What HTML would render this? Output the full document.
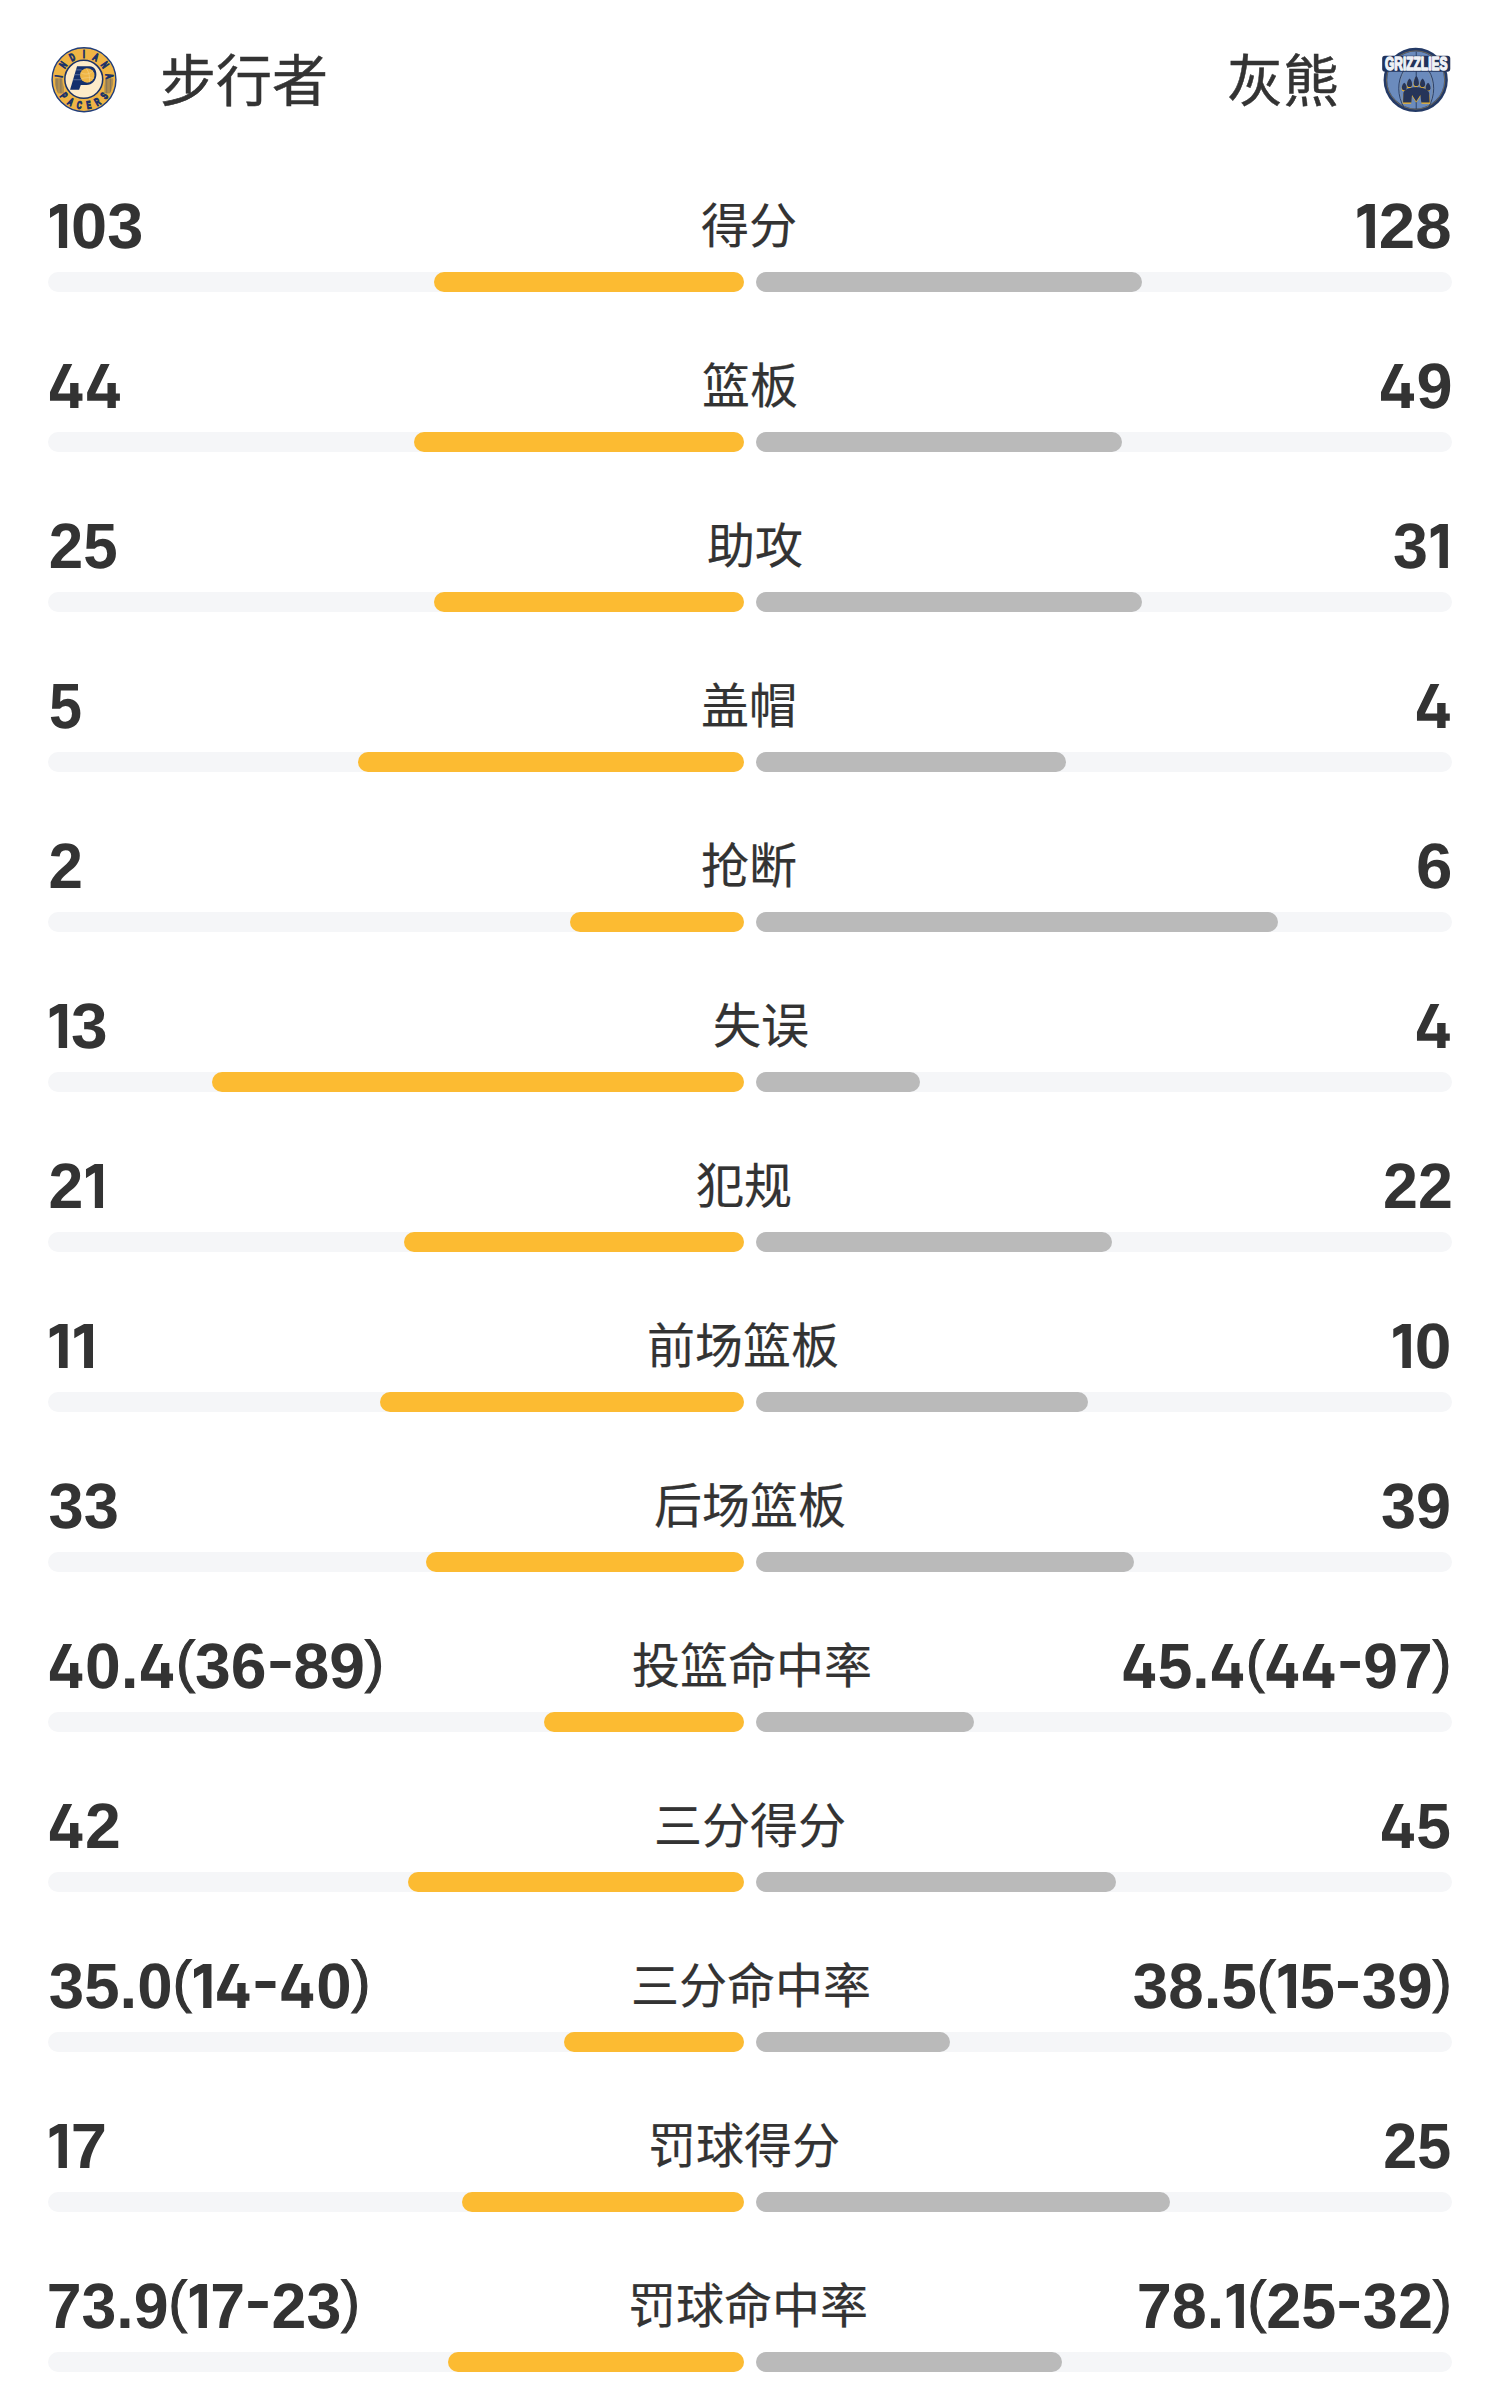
<!DOCTYPE html>
<html lang="zh-CN"><head><meta charset="utf-8"><title>stats</title>
<style>
*{margin:0;padding:0;box-sizing:border-box}
html,body{width:1500px;height:2400px;background:#fff;overflow:hidden}
body{position:relative;font-family:"Liberation Sans",sans-serif;color:#333}
.hd{position:absolute;font-size:56px;-webkit-text-stroke:0.5px #333;line-height:1;white-space:nowrap}
.num{position:absolute;left:0;font-weight:bold;font-size:64px;line-height:1;text-rendering:geometricPrecision;white-space:nowrap;transform-origin:0 0}
.lab{position:absolute;font-size:48px;-webkit-text-stroke:0.2px #333;line-height:1;white-space:nowrap;transform:translateX(-50%)}
.trk{position:absolute;width:696px;height:20px;border-radius:10px;background:#f5f6f8}
.y{position:absolute;height:20px;border-radius:10px;background:#fcbb32}
.g{position:absolute;height:20px;border-radius:10px;background:#bababa}
svg{position:absolute;display:block}
.pa{font-size:57px;position:relative;top:-7px;font-weight:normal;-webkit-text-stroke:1.2px #333}.hy{display:inline-block;width:27px;height:7px;background:linear-gradient(#333,#333) center/20px 7px no-repeat;vertical-align:20px}.four{display:inline-block;width:32.8px;height:44px;margin:0 2.5px 0 2px;background:#333;clip-path:polygon(41.6% 0,68.5% 0,24.9% 67.3%,61.9% 67.3%,61.9% 43%,87.3% 43%,87.3% 67.3%,100% 67.3%,100% 83.7%,87.3% 83.7%,87.3% 100%,61.9% 100%,61.9% 83.7%,0 83.7%,0 64.6%)}.one{display:inline-block;width:17.8px;height:44px;margin:0 3.5px 0 2.5px;background:#333;clip-path:polygon(52% 0,100% 0,100% 100%,52% 100%,52% 19.6%,0 32.5%,0 12%)}
</style></head><body>

<svg style="left:48px;top:44px" width="72" height="72" viewBox="0 0 1500 1500">
<defs>
<clipPath id="ring"><path fill-rule="evenodd" d="M750,745 m-612,0 a612,612 0 1 0 1224,0 a612,612 0 1 0 -1224,0 Z M745,735 m-445,0 a445,445 0 1 1 890,0 a445,445 0 1 1 -890,0 Z"/></clipPath>
</defs>
<circle cx="750" cy="745" r="665" fill="#efb545" stroke="#213d7a" stroke-width="30"/>
<g clip-path="url(#ring)" stroke="#2b3d68" stroke-width="11" opacity="1"><path d="M146,715V1030M174,715V1030M202,715V1030M230,715V1030M258,715V1030M286,715V1030M314,715V1030"/><path d="M1190,715V1030M1218,715V1030M1246,715V1030M1274,715V1030M1302,715V1030M1330,715V1030M1358,715V1030"/></g>
<g font-family="Liberation Sans" font-weight="bold" font-size="225" fill="#1b3268" stroke="#1b3268" stroke-width="24" text-anchor="middle">
<text transform="translate(220.2,670.5) rotate(-82.0) scale(0.62,1)" y="78">I</text>
<text transform="translate(313.5,435.6) rotate(-54.7) scale(0.62,1)" y="78">N</text>
<text transform="translate(504.3,269.7) rotate(-27.3) scale(0.62,1)" y="78">D</text>
<text transform="translate(750.0,210.0) rotate(0.0) scale(0.62,1)" y="78">I</text>
<text transform="translate(995.7,269.7) rotate(27.3) scale(0.62,1)" y="78">A</text>
<text transform="translate(1186.5,435.6) rotate(54.7) scale(0.62,1)" y="78">N</text>
<text transform="translate(1279.8,670.5) rotate(82.0) scale(0.62,1)" y="78">A</text>
<text transform="translate(328.4,1074.4) rotate(52.0) scale(0.62,1)" y="78">P</text>
<text transform="translate(472.9,1202.6) rotate(31.2) scale(0.62,1)" y="78">A</text>
<text transform="translate(653.4,1271.2) rotate(10.4) scale(0.62,1)" y="78">C</text>
<text transform="translate(846.6,1271.2) rotate(-10.4) scale(0.62,1)" y="78">E</text>
<text transform="translate(1027.1,1202.6) rotate(-31.2) scale(0.62,1)" y="78">R</text>
<text transform="translate(1171.6,1074.4) rotate(-52.0) scale(0.62,1)" y="78">S</text>
</g>
<circle cx="745" cy="735" r="395" fill="#fdebc9" stroke="#1b3268" stroke-width="32"/>
<path fill="#14306d" d="M605,462 L870,462 C960,462 1012,540 1008,640 C1004,760 920,852 800,852 L683,852 L648,952 L460,952 Z"/>
<g stroke="#8193b8" stroke-width="13"><path d="M582,540H700M548,640H680M515,745H700"/></g>
<circle cx="818" cy="655" r="150" fill="#efb545"/>
<g stroke="#f6d38a" stroke-width="12" fill="none"><path d="M690,600 C760,640 860,640 940,560M700,720 C780,700 880,690 955,720M800,510 C850,580 880,680 860,800"/></g>
</svg>
<svg style="left:1378px;top:44px" width="78" height="72" viewBox="0 0 1500 1385">
<circle cx="725" cy="692" r="618" fill="#243a66"/>
<circle cx="725" cy="692" r="560" fill="none" stroke="#b59450" stroke-width="10"/>
<circle cx="725" cy="692" r="548" fill="#6b8bbd"/>
<g fill="none" stroke="#2a3d63" stroke-width="18">
<path d="M735,150V1250"/>
<path d="M500,500 C360,720 370,1000 500,1220"/>
<path d="M970,500 C1110,720 1100,1000 970,1220"/>
</g>
<g fill="none" stroke="#c9a75a" stroke-width="5" opacity="0.7">
<path d="M520,500 C380,720 390,1000 520,1220"/>
<path d="M950,500 C1090,720 1080,1000 950,1220"/>
</g>
<rect x="80" y="228" width="1310" height="305" rx="55" fill="#21325a"/>
<text x="735" y="505" font-family="Liberation Sans" font-weight="bold" font-size="340" fill="#f3f5fa" text-anchor="middle" textLength="1200" lengthAdjust="spacingAndGlyphs" stroke="#eef0f5" stroke-width="30" stroke-linejoin="round">GRIZZLIES</text>
<g fill="#f2b527">
<path d="M499,763 C531.9,788.75 546,823.7 546,866 A47,47 0 0 1 452,866 C452,823.7 466.1,788.75 499,763 Z"/>
<path d="M601,683 C635.3,711.5 650,752.9 650,797 A49,49 0 0 1 552,797 C552,752.9 566.7,711.5 601,683 Z"/>
<path d="M731,633 C766.0,668.75 781,731.0 781,776 A50,50 0 0 1 681,776 C681,731.0 696.0,668.75 731,633 Z"/>
<path d="M851,683 C885.3,712.0 900,754.9 900,799 A49,49 0 0 1 802,799 C802,754.9 816.7,712.0 851,683 Z"/>
<path d="M957,763 C989.9,789.25 1004,825.7 1004,868 A47,47 0 0 1 910,868 C910,825.7 924.1,789.25 957,763 Z"/>
<path d="M480,1000 C480,900 600,840 735,840 C880,840 995,900 995,1010 L1004,1150 L838,1150 L820,1000 L735,1124 L652,1000 L636,1150 L476,1150 Z"/>
</g>
<g fill="#263559">
<path d="M505,745 C537.9,770.75 552,805.7 552,848 A47,47 0 0 1 458,848 C458,805.7 472.1,770.75 505,745 Z"/>
<path d="M607,665 C641.3,693.5 656,734.9 656,779 A49,49 0 0 1 558,779 C558,734.9 572.7,693.5 607,665 Z"/>
<path d="M737,615 C772.0,650.75 787,713.0 787,758 A50,50 0 0 1 687,758 C687,713.0 702.0,650.75 737,615 Z"/>
<path d="M857,665 C891.3,694.0 906,736.9 906,781 A49,49 0 0 1 808,781 C808,736.9 822.7,694.0 857,665 Z"/>
<path d="M963,745 C995.9,771.25 1010,807.7 1010,850 A47,47 0 0 1 916,850 C916,807.7 930.1,771.25 963,745 Z"/>
<path d="M487,954 C487,880 600,832 735,832 C870,832 985,880 985,954 L994,1127 L833,1127 L815,983 L735,1104 L654,983 L642,1127 L482,1127 Z"/>
</g>
</svg>

<div class="hd" style="left:160px;top:54px">步行者</div>
<div class="hd" style="right:161px;top:54px">灰熊</div>
<div class="num" style="top:194px;transform:translateX(46.96px) scaleX(1.0144)"><span class="one"></span>03</div>
<div class="num" style="top:194px;transform:translateX(1354.43px) scaleX(1.0222)"><span class="one"></span>28</div>
<div class="lab" style="left:749.4px;top:203px">得分</div>
<div class="trk" style="top:272px;left:48px"></div><div class="trk" style="top:272px;left:756px"></div>
<div class="y" style="top:272px;left:434px;width:310px"></div>
<div class="g" style="top:272px;left:756px;width:386px"></div>
<div class="num" style="top:354px;transform:translateX(47.80px) scaleX(1.0014)"><span class="four"></span><span class="four"></span></div>
<div class="num" style="top:354px;transform:translateX(1378.77px) scaleX(1.0132)"><span class="four"></span>9</div>
<div class="lab" style="left:750.4px;top:363px">篮板</div>
<div class="trk" style="top:432px;left:48px"></div><div class="trk" style="top:432px;left:756px"></div>
<div class="y" style="top:432px;left:414px;width:330px"></div>
<div class="g" style="top:432px;left:756px;width:366px"></div>
<div class="num" style="top:514px;transform:translateX(48.87px) scaleX(0.9672)">25</div>
<div class="num" style="top:514px;transform:translateX(1393.04px) scaleX(0.9815)">3<span class="one"></span></div>
<div class="lab" style="left:755.3px;top:523px">助攻</div>
<div class="trk" style="top:592px;left:48px"></div><div class="trk" style="top:592px;left:756px"></div>
<div class="y" style="top:592px;left:434px;width:310px"></div>
<div class="g" style="top:592px;left:756px;width:386px"></div>
<div class="num" style="top:674px;transform:translateX(48.94px) scaleX(0.9281)">5</div>
<div class="num" style="top:674px;transform:translateX(1414.68px) scaleX(1.0091)"><span class="four"></span></div>
<div class="lab" style="left:748.6px;top:683px">盖帽</div>
<div class="trk" style="top:752px;left:48px"></div><div class="trk" style="top:752px;left:756px"></div>
<div class="y" style="top:752px;left:358px;width:386px"></div>
<div class="g" style="top:752px;left:756px;width:310px"></div>
<div class="num" style="top:834px;transform:translateX(48.56px) scaleX(0.9677)">2</div>
<div class="num" style="top:834px;transform:translateX(1415.95px) scaleX(1.0226)">6</div>
<div class="lab" style="left:749.2px;top:843px">抢断</div>
<div class="trk" style="top:912px;left:48px"></div><div class="trk" style="top:912px;left:756px"></div>
<div class="y" style="top:912px;left:570px;width:174px"></div>
<div class="g" style="top:912px;left:756px;width:522px"></div>
<div class="num" style="top:994px;transform:translateX(46.61px) scaleX(1.0296)"><span class="one"></span>3</div>
<div class="num" style="top:994px;transform:translateX(1414.68px) scaleX(1.0091)"><span class="four"></span></div>
<div class="lab" style="left:761.0px;top:1003px">失误</div>
<div class="trk" style="top:1072px;left:48px"></div><div class="trk" style="top:1072px;left:756px"></div>
<div class="y" style="top:1072px;left:212px;width:532px"></div>
<div class="g" style="top:1072px;left:756px;width:164px"></div>
<div class="num" style="top:1154px;transform:translateX(48.54px) scaleX(0.9778)">2<span class="one"></span></div>
<div class="num" style="top:1154px;transform:translateX(1383.04px) scaleX(0.9803)">22</div>
<div class="lab" style="left:744.1px;top:1163px">犯规</div>
<div class="trk" style="top:1232px;left:48px"></div><div class="trk" style="top:1232px;left:756px"></div>
<div class="y" style="top:1232px;left:404px;width:340px"></div>
<div class="g" style="top:1232px;left:756px;width:356px"></div>
<div class="num" style="top:1314px;transform:translateX(46.53px) scaleX(1.0561)"><span class="one"></span><span class="one"></span></div>
<div class="num" style="top:1314px;transform:translateX(1390.21px) scaleX(1.0315)"><span class="one"></span>0</div>
<div class="lab" style="left:743.1px;top:1323px">前场篮板</div>
<div class="trk" style="top:1392px;left:48px"></div><div class="trk" style="top:1392px;left:756px"></div>
<div class="y" style="top:1392px;left:380px;width:364px"></div>
<div class="g" style="top:1392px;left:756px;width:332px"></div>
<div class="num" style="top:1474px;transform:translateX(48.52px) scaleX(0.9881)">33</div>
<div class="num" style="top:1474px;transform:translateX(1381.03px) scaleX(0.9851)">39</div>
<div class="lab" style="left:749.9px;top:1483px">后场篮板</div>
<div class="trk" style="top:1552px;left:48px"></div><div class="trk" style="top:1552px;left:756px"></div>
<div class="y" style="top:1552px;left:426px;width:318px"></div>
<div class="g" style="top:1552px;left:756px;width:378px"></div>
<div class="num" style="top:1634px;transform:translateX(47.59px) scaleX(1.0036)"><span class="four"></span>0.<span class="four"></span><span class="pa">(</span>36<span class="hy"></span>89<span class="pa">)</span></div>
<div class="num" style="top:1634px;transform:translateX(1121.35px) scaleX(0.9737)"><span class="four"></span>5.<span class="four"></span><span class="pa">(</span><span class="four"></span><span class="four"></span><span class="hy"></span>97<span class="pa">)</span></div>
<div class="lab" style="left:752.0px;top:1643px">投篮命中率</div>
<div class="trk" style="top:1712px;left:48px"></div><div class="trk" style="top:1712px;left:756px"></div>
<div class="y" style="top:1712px;left:544px;width:200px"></div>
<div class="g" style="top:1712px;left:756px;width:218px"></div>
<div class="num" style="top:1794px;transform:translateX(47.59px) scaleX(1.0059)"><span class="four"></span>2</div>
<div class="num" style="top:1794px;transform:translateX(1380.05px) scaleX(0.9739)"><span class="four"></span>5</div>
<div class="lab" style="left:750.0px;top:1803px">三分得分</div>
<div class="trk" style="top:1872px;left:48px"></div><div class="trk" style="top:1872px;left:756px"></div>
<div class="y" style="top:1872px;left:408px;width:336px"></div>
<div class="g" style="top:1872px;left:756px;width:360px"></div>
<div class="num" style="top:1954px;transform:translateX(48.81px) scaleX(0.9940)">35.0<span class="pa">(</span><span class="one"></span><span class="four"></span><span class="hy"></span><span class="four"></span>0<span class="pa">)</span></div>
<div class="num" style="top:1954px;transform:translateX(1132.81px) scaleX(0.9959)">38.5<span class="pa">(</span><span class="one"></span>5<span class="hy"></span>39<span class="pa">)</span></div>
<div class="lab" style="left:750.8px;top:1963px">三分命中率</div>
<div class="trk" style="top:2032px;left:48px"></div><div class="trk" style="top:2032px;left:756px"></div>
<div class="y" style="top:2032px;left:564px;width:180px"></div>
<div class="g" style="top:2032px;left:756px;width:194px"></div>
<div class="num" style="top:2114px;transform:translateX(46.54px) scaleX(1.0189)"><span class="one"></span>7</div>
<div class="num" style="top:2114px;transform:translateX(1383.19px) scaleX(0.9537)">25</div>
<div class="lab" style="left:744.3px;top:2123px">罚球得分</div>
<div class="trk" style="top:2192px;left:48px"></div><div class="trk" style="top:2192px;left:756px"></div>
<div class="y" style="top:2192px;left:462px;width:282px"></div>
<div class="g" style="top:2192px;left:756px;width:414px"></div>
<div class="num" style="top:2274px;transform:translateX(46.66px) scaleX(0.9783)">73.9<span class="pa">(</span><span class="one"></span>7<span class="hy"></span>23<span class="pa">)</span></div>
<div class="num" style="top:2274px;transform:translateX(1136.65px) scaleX(0.9838)">78.<span class="one"></span><span class="pa">(</span>25<span class="hy"></span>32<span class="pa">)</span></div>
<div class="lab" style="left:748.2px;top:2283px">罚球命中率</div>
<div class="trk" style="top:2352px;left:48px"></div><div class="trk" style="top:2352px;left:756px"></div>
<div class="y" style="top:2352px;left:448px;width:296px"></div>
<div class="g" style="top:2352px;left:756px;width:306px"></div>
</body></html>
